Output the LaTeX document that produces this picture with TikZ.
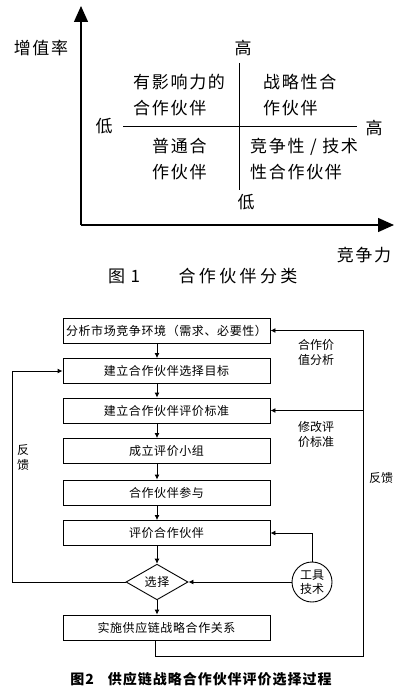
\documentclass[tikz,border=0pt]{standalone}
\usepackage{fontspec}
\setmainfont{Noto Sans CJK SC}
\newfontfamily\cjkwide[LetterSpace=10]{Noto Sans CJK SC}
\newfontfamily\cjkcap[LetterSpace=20]{Noto Sans CJK SC}
\newfontfamily\cjkbox[LetterSpace=5]{Noto Sans CJK SC}
\newfontfamily\cjktitle[LetterSpace=7]{Noto Sans CJK SC}
\usetikzlibrary{arrows.meta,shapes.geometric}

\begin{document}
\begin{tikzpicture}[x=1pt,y=-1pt,
	axisline/.style={line width=1.3pt,-{Triangle[length=16pt,width=14pt]}},
	divide/.style={line width=0.9pt},
	zone/.style={anchor=west,inner sep=0pt,align=left,font=\cjkwide\fontsize{17}{26}\selectfont},
	axlabel/.style={inner sep=0pt,font=\cjkwide\fontsize{17}{20}\selectfont},
	stepbox/.style={draw,line width=0.9pt,minimum width=207pt,minimum height=25pt,inner sep=0pt,font=\cjkbox\fontsize{12}{14}\selectfont},
	flow/.style={line width=0.9pt,-{Latex[length=5pt,width=5pt]}},
	note/.style={inner sep=0pt,align=left,font=\fontsize{12}{15}\selectfont}]
\fill[white] (0,0) rectangle (402,690);
\useasboundingbox (0,0) rectangle (402,690);
% Figure 1
\coordinate (origin) at (81,225);
\coordinate (ytip) at (81,6);
\coordinate (xtip) at (394,225);
\draw[axisline] (origin) -- (ytip);
\draw[axisline] (origin) -- (xtip);
\coordinate (vtop) at (239,63);
\coordinate (vbot) at (239,190);
\coordinate (hleft) at (123,126);
\coordinate (hright) at (357,126);
\draw[divide] (vtop) -- (vbot);
\draw[divide] (hleft) -- (hright);
\node[axlabel] (rate) at (41,48) {增值率};
\node[axlabel] (hightop) at (243,48) {高};
\node[axlabel] (lowleft) at (104,126) {低};
\node[axlabel] (highright) at (374,128) {高};
\node[axlabel] (lowbot) at (246,202) {低};
\node[axlabel] (compete) at (364,255) {竞争力};
\node[zone] (influence) at (133,95) {有影响力的\\合作伙伴};
\node[zone] (strategic) at (263,95) {战略性合\\作伙伴};
\node[zone] (ordinary) at (152,159) {普通合\\作伙伴};
\node[zone] (technical) at (250,159) {竞争性 / 技术\\性合作伙伴};
\node[inner sep=0pt,font=\cjkwide\fontsize{17}{20}\selectfont] (fig1no) at (124,276) {图 1};
\node[inner sep=0pt,font=\cjkcap\fontsize{17}{20}\selectfont] (fig1title) at (238,276) {合作伙伴分类};
% Figure 2
\node[stepbox] (market) at (166.5,330.5) {分析市场竞争环境（需求、必要性）};
\node[stepbox] (goal) at (166.5,371) {建立合作伙伴选择目标};
\node[stepbox] (criteria) at (166.5,410.5) {建立合作伙伴评价标准};
\node[stepbox] (team) at (166.5,451) {成立评价小组};
\node[stepbox] (join) at (166.5,492.5) {合作伙伴参与};
\node[stepbox] (assess) at (166.5,533) {评价合作伙伴};
\node[draw,diamond,line width=0.9pt,minimum width=62pt,minimum height=31pt,inner sep=0pt,font=\cjkbox\fontsize{12}{14}\selectfont] (select) at (157,582) {选择};
\node[draw,circle,line width=0.9pt,minimum size=40pt,inner sep=0pt,align=center,font=\fontsize{12}{14}\selectfont] (tools) at (312,582) {工具\\技术};
\node[stepbox] (implement) at (166.5,627.5) {实施供应链战略合作关系};
\draw[flow] ([xshift=-9.5pt]market.south) -- ([xshift=-9.5pt]goal.north);
\draw[flow] ([xshift=-9.5pt]goal.south) -- ([xshift=-9.5pt]criteria.north);
\draw[flow] ([xshift=-9.5pt]criteria.south) -- ([xshift=-9.5pt]team.north);
\draw[flow] ([xshift=-9.5pt]team.south) -- ([xshift=-9.5pt]join.north);
\draw[flow] ([xshift=-9.5pt]join.south) -- ([xshift=-9.5pt]assess.north);
\draw[flow] ([xshift=-9.5pt]assess.south) -- (select.north);
\draw[flow] (select.south) -- ([xshift=-9.5pt]implement.north);
\draw[flow] (tools.north) |- (assess.east);
\draw[flow] (tools.west) -- (select.east);
\coordinate (leftturn) at (12,582);
\draw[flow] (select.west) -- (leftturn) |- (goal.west);
\coordinate (rightturn) at (363,656);
\draw[flow] ([xshift=-11pt]implement.south) |- (rightturn) |- (market.east);
\draw[flow] (rightturn |- criteria.east) -- (criteria.east);
\node[note] (value) at (316,352) {合作价\\值分析};
\node[note] (revise) at (316,434) {修改评\\价标准};
\node[note] (backleft) at (23,458) {反\\馈};
\node[note] (backright) at (381,478) {反馈};
\node[inner sep=0pt,font=\cjktitle\bfseries\fontsize{14}{16}\selectfont] (fig2title) at (201,679) {图2\quad 供应链战略合作伙伴评价选择过程};
\end{tikzpicture}
\end{document}
